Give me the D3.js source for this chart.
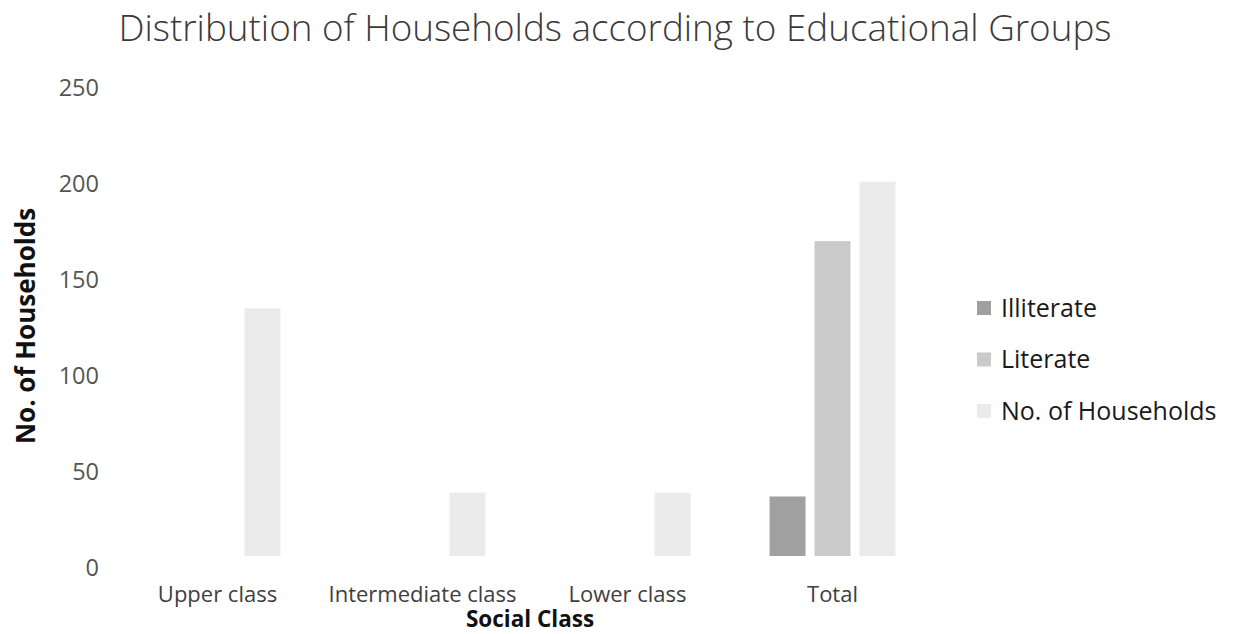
<!DOCTYPE html>
<html>
<head>
<meta charset="utf-8">
<script src="https://cdn.jsdelivr.net/npm/d3@7"></script>
<style>
  html, body { margin: 0; padding: 0; background: #fff; }
  svg { display: block; }
</style>
</head>
<body>
<svg id="chart" width="1240" height="634"></svg>
<script>
const categories = ["Upper class", "Intermediate class", "Lower class", "Total"];
const seriesNames = ["Illiterate", "Literate", "No. of Households"];
const illiterate = [0, 0, 0, 31];
const literate = [0, 0, 0, 164];
const households = [129, 33, 33, 195];
const yTicks = [0, 50, 100, 150, 200, 250];
const colors = ["#a0a0a0", "#cacaca", "#ebebeb"];

const seriesValues = [illiterate, literate, households];
const svg = d3.select("#chart");
const font = "'Open Sans', 'DejaVu Sans', sans-serif";

const plot = { left: 115, right: 935, top: 76, bottom: 556 };

const x = d3.scaleBand().domain(categories).range([plot.left, plot.right]).padding(0);
const xs = d3.scaleBand().domain(seriesNames).range([0, x.bandwidth()]).paddingInner(0.2).paddingOuter(0.88);
const y = d3.scaleLinear().domain([0, 250]).range([plot.bottom, plot.top]);

// Title
svg.append("text")
  .attr("x", 615).attr("y", 41)
  .attr("text-anchor", "middle")
  .attr("font-family", font)
  .attr("font-size", 36.8)
  .attr("font-weight", 300)
  .attr("fill", "#3a3a3a")
  .text("Distribution of Households according to Educational Groups");

// Y axis
const yAxis = svg.append("g")
  .attr("transform", `translate(99,11)`)
  .call(d3.axisLeft(y).tickValues(yTicks).tickSize(0).tickPadding(0));
yAxis.select(".domain").remove();
yAxis.selectAll("text")
  .attr("font-family", font)
  .attr("font-size", 23.5)
  .attr("fill", "#555")
  .attr("dy", "0.36em");

// X axis
const xAxis = svg.append("g")
  .attr("transform", `translate(0,${plot.bottom})`)
  .call(d3.axisBottom(x).tickSize(0).tickPadding(0));
xAxis.select(".domain").remove();
xAxis.selectAll("text")
  .attr("font-family", font)
  .attr("font-size", 22)
  .attr("fill", "#404040")
  .attr("y", 46)
  .attr("dy", 0);

// Bars
const data = [];
categories.forEach((c, i) => {
  seriesNames.forEach((s, j) => {
    data.push({ c, s, j, v: seriesValues[j][i] });
  });
});
svg.append("g").selectAll("rect")
  .data(data.filter(d => d.v > 0))
  .join("rect")
  .attr("x", d => x(d.c) + xs(d.s))
  .attr("y", d => y(d.v))
  .attr("width", xs.bandwidth())
  .attr("height", d => y(0) - y(d.v))
  .attr("fill", d => colors[d.j]);

// Axis titles
svg.append("text")
  .attr("transform", `translate(35,326) rotate(-90)`)
  .attr("text-anchor", "middle")
  .attr("font-family", font)
  .attr("font-size", 26)
  .attr("font-weight", 700)
  .attr("fill", "#111")
  .text("No. of Households");

svg.append("text")
  .attr("x", 530).attr("y", 627)
  .attr("text-anchor", "middle")
  .attr("font-family", font)
  .attr("font-size", 22.5)
  .attr("font-weight", 700)
  .attr("fill", "#111")
  .text("Social Class");

// Legend
const legend = svg.append("g").selectAll("g")
  .data(seriesNames)
  .join("g")
  .attr("transform", (d, i) => `translate(977,${308 + i * 51.5})`);
legend.append("rect")
  .attr("x", 0).attr("y", -7)
  .attr("width", 14).attr("height", 14)
  .attr("fill", (d, i) => colors[i]);
legend.append("text")
  .attr("x", 24).attr("y", 0)
  .attr("dy", "0.35em")
  .attr("font-family", font)
  .attr("font-size", 25)
  .attr("fill", "#1a1a1a")
  .text(d => d);
</script>
</body>
</html>
